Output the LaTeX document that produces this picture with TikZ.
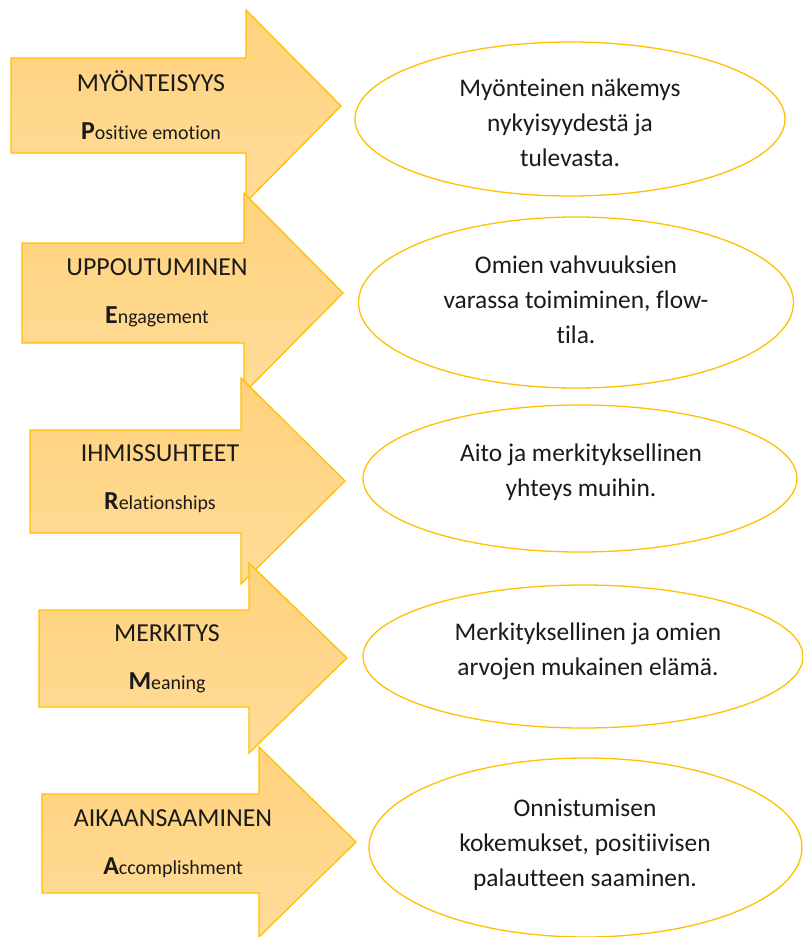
\documentclass[tikz,border=0pt]{standalone}
\usepackage{fontspec}
\setmainfont[Ligatures={NoCommon}]{Carlito}
\usetikzlibrary{shapes.geometric}
\definecolor{gold}{HTML}{FFC000}
\definecolor{filltop}{HTML}{FFD27C}
\definecolor{fillbot}{HTML}{FFDC99}
\definecolor{ink}{HTML}{1A1A1A}
\tikzset{
  arrowshape/.style={draw=gold, line width=1.3bp, line join=miter, top color=filltop, bottom color=fillbot},
  arrowtext/.style={anchor=base, align=center, inner sep=0pt, text=ink, font=\fontsize{26}{48}\selectfont},
  oval/.style={ellipse, draw=gold, line width=1.3bp, fill=white, inner sep=0pt},
  ovaltext/.style={anchor=base, align=center, inner sep=0pt, text=ink, font=\fontsize{25.5}{34.7}\selectfont},
}
\newcommand{\sub}[1]{{\fontsize{20}{48}\selectfont #1}}
\begin{document}
\begin{tikzpicture}[x=1bp,y=-1bp]
\useasboundingbox (0,0) rectangle (803,937);
% arrows: x0, top, bot, hx, htop, tipx, tipy, hbot
\newcommand{\arrowpath}[8]{\path[arrowshape] (#1,#2) -- (#4,#2) -- (#4,#5) -- (#6,#7) -- (#4,#8) -- (#4,#3) -- (#1,#3) -- cycle;}
\arrowpath{11}{58}{153}{246}{10}{341}{106}{202}
\node[arrowtext] (t1) at (151,139) {MYÖNTEISYYS\\\textbf{P}\sub{ositive emotion}};
\arrowpath{22}{243}{343}{244}{193}{343}{293}{393}
\node[arrowtext] (t2) at (157,323) {UPPOUTUMINEN\\\textbf{E}\sub{ngagement}};
\arrowpath{30}{430}{533}{241}{378}{345}{481}{584}
\node[arrowtext] (t3) at (160,509) {IHMISSUHTEET\\\textbf{R}\sub{elationships}};
\arrowpath{39}{610}{707}{249}{563}{347}{658}{753}
\node[arrowtext] (t4) at (167,689) {MERKITYS\\\textbf{M}\sub{eaning}};
\arrowpath{42}{794}{893}{259}{747}{356}{842}{937}
\node[arrowtext] (t5) at (173,874) {AIKAANSAAMINEN\\\textbf{A}\sub{ccomplishment}};
% ovals
\node[oval, minimum width=430bp, minimum height=154bp] (e1) at (570,119) {};
\node[ovaltext] (o1) at (570,166) {Myönteinen näkemys\\nykyisyydestä ja\\tulevasta.};
\node[oval, minimum width=435bp, minimum height=171bp] (e2) at (576,302.5) {};
\node[ovaltext] (o2) at (576,343) {Omien vahvuuksien\\varassa toimiminen, flow-\\tila.};
\node[oval, minimum width=434bp, minimum height=147bp] (e3) at (580,478.5) {};
\node[ovaltext] (o3) at (581,496) {Aito ja merkityksellinen\\yhteys muihin.};
\node[oval, minimum width=440bp, minimum height=143bp] (e4) at (583,656.5) {};
\node[ovaltext] (o4) at (588,675) {Merkityksellinen ja omien\\arvojen mukainen elämä.};
\node[oval, minimum width=433bp, minimum height=179bp] (e5) at (585.5,847.5) {};
\node[ovaltext] (o5) at (585,886) {Onnistumisen\\kokemukset, positiivisen\\palautteen saaminen.};
\end{tikzpicture}
\end{document}
